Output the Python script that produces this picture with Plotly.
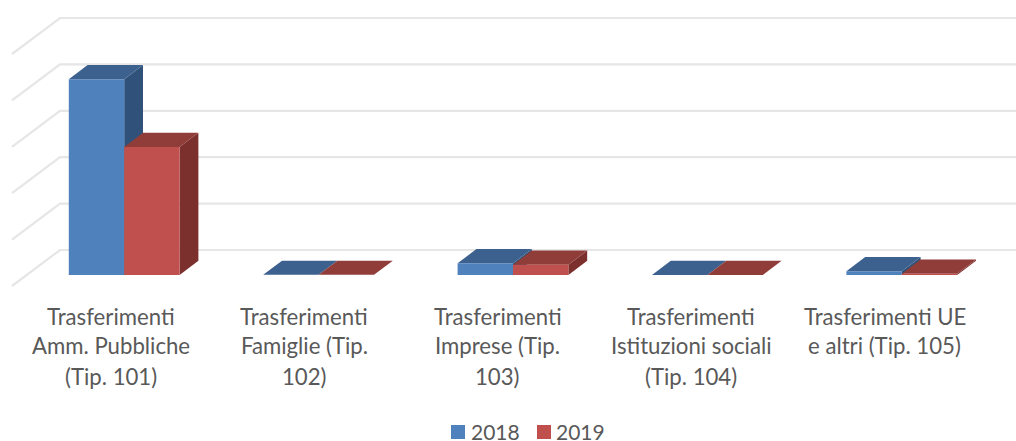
import plotly.graph_objects as go

categories = [
    ["Trasferimenti", "Amm. Pubbliche", "(Tip. 101)"],
    ["Trasferimenti", "Famiglie (Tip.", "102)"],
    ["Trasferimenti", "Imprese (Tip.", "103)"],
    ["Trasferimenti", "Istituzioni sociali", "(Tip. 104)"],
    ["Trasferimenti UE", "e altri (Tip. 105)"],
]
series_names = ["2018", "2019"]
values_2018 = [42.2, 0.03, 2.52, 0.02, 0.8]
values_2019 = [27.6, 0.03, 2.22, 0.02, 0.28]
grid_values = [0, 10, 20, 30, 40, 50]

W, H = 1016, 441
PX_PER_CAT = 194.4
PX_PER_UNIT = 4.64
X0_PX, Y0_PX = 124.2, 275.0   # pixel position of category 0 / value 0

def dx(px):
    return px / PX_PER_CAT

def dy(px):
    return px / PX_PER_UNIT

BAR_W = dx(55.4)
DEPTH_X, DEPTH_Y = dx(18.8), dy(14.2)
WALL_X0 = dx(60 - X0_PX)
WALL_DX, WALL_DY = dx(48), dy(36)
WALL_Y0 = dy(25)

styles = [
    dict(front="#4F81BD", top="#3C618F", side="#30527A"),
    dict(front="#C0504D", top="#903C39", side="#7B302E"),
]
GRID = "#E6E6E6"
TEXT = "#595959"
FONT = "Lato"
xmax = (W - X0_PX) / PX_PER_CAT

fig = go.Figure()


def poly(xs, ys, color, name, group):
    fig.add_trace(go.Scatter(
        x=xs + xs[:1], y=ys + ys[:1], mode="lines", fill="toself", fillcolor=color,
        line=dict(width=0, color=color), name=name, legendgroup=group,
        showlegend=False, hoverinfo="skip",
    ))


for g in grid_values:
    y = g + WALL_Y0
    fig.add_trace(go.Scatter(
        x=[WALL_X0 - WALL_DX, WALL_X0, xmax], y=[y - WALL_DY, y, y],
        mode="lines", line=dict(color=GRID, width=2.2), showlegend=False, hoverinfo="skip",
    ))

for i in range(len(categories)):
    for s, vals in enumerate([values_2018, values_2019]):
        st = styles[s]
        name = series_names[s]
        x0 = i - BAR_W + s * BAR_W
        x1 = x0 + BAR_W
        v = vals[i]
        # right side, top, front
        poly([x1, x1 + DEPTH_X, x1 + DEPTH_X, x1], [0, DEPTH_Y, v + DEPTH_Y, v], st["side"], name, name)
        poly([x0, x1, x1 + DEPTH_X, x0 + DEPTH_X], [v, v, v + DEPTH_Y, v + DEPTH_Y], st["top"], name, name)
        poly([x0, x1, x1, x0], [0, 0, v, v], st["front"], name, name)

annotations = []
shapes = []
LINE_Y = [316, 345.5, 376]
for i, lines in enumerate(categories):
    for k, line in enumerate(lines):
        annotations.append(dict(
            x=i - dx(13.2 + 1.0 * i), xref="x", y=1 - LINE_Y[k] / H, yref="paper", text=line, showarrow=False,
            xanchor="center", yanchor="middle", font=dict(family=FONT, size=22.2, color=TEXT),
        ))

LEG_SWATCH = [451, 537]
LEG_TEXT = [471, 556]
for s, name in enumerate(series_names):
    shapes.append(dict(
        type="rect", xref="paper", yref="paper", layer="above",
        x0=LEG_SWATCH[s] / W, x1=(LEG_SWATCH[s] + 14) / W,
        y0=1 - 439 / H, y1=1 - 425 / H, fillcolor=styles[s]["front"], line=dict(width=0),
    ))
    annotations.append(dict(
        x=LEG_TEXT[s] / W, xref="paper", y=1 - 431.5 / H, yref="paper", text=name, showarrow=False,
        xanchor="left", yanchor="middle", xshift=-2, font=dict(family=FONT, size=21, color=TEXT),
    ))

fig.update_layout(
    width=W, height=H, margin=dict(l=0, r=0, t=0, b=0),
    paper_bgcolor="white", plot_bgcolor="white", showlegend=False,
    annotations=annotations, shapes=shapes,
    xaxis=dict(range=[-X0_PX / PX_PER_CAT, xmax], visible=False, fixedrange=True),
    yaxis=dict(range=[(Y0_PX - H) / PX_PER_UNIT, Y0_PX / PX_PER_UNIT], visible=False, fixedrange=True),
)

fig.write_html(
    "out.html",
    config={"displayModeBar": False},
    post_script="document.body.style.margin='0';document.body.style.overflow='hidden';",
)
